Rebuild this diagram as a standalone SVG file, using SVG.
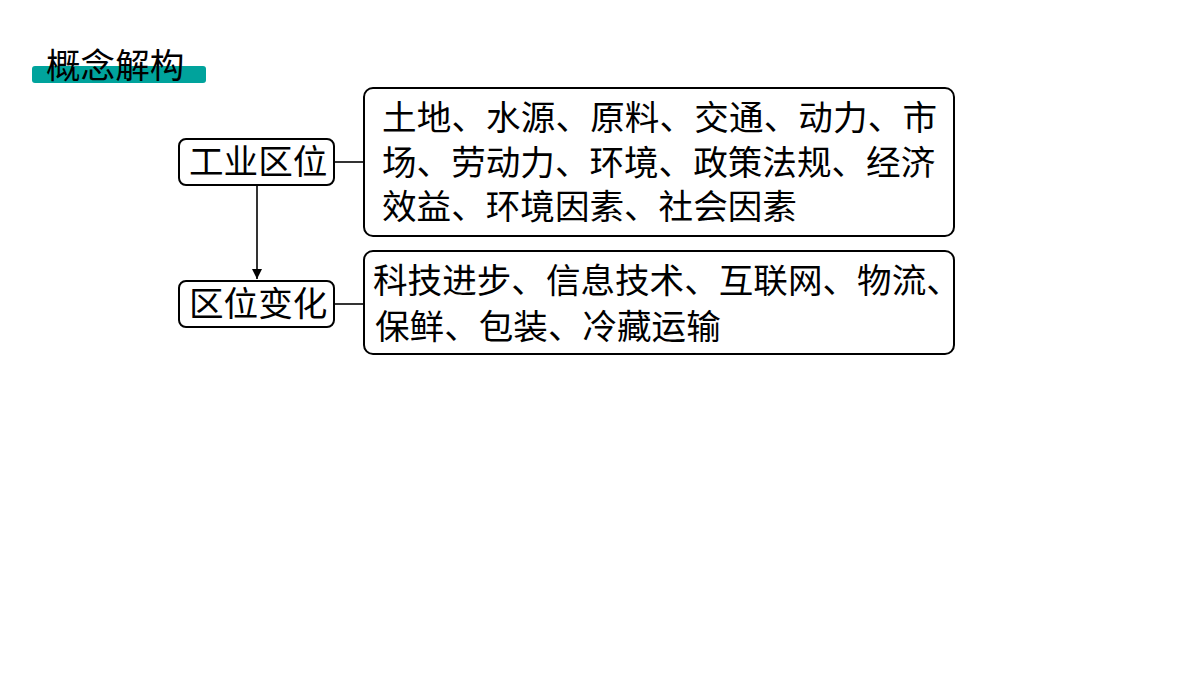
<svg xmlns="http://www.w3.org/2000/svg" width="1200" height="675" viewBox="0 0 1200 675">
<defs>
<style>
text{font-family:"Noto Sans CJK SC","Noto Sans",sans-serif;fill:#000}
.box{fill:#fff;stroke:#000;stroke-width:2}
.t{font-size:34.6px}
.ln{stroke:#000;stroke-width:1.6;fill:none}
</style>
<marker id="ah" viewBox="0 0 10 10" refX="10" refY="5" markerWidth="13" markerHeight="10" markerUnits="userSpaceOnUse" orient="auto">
<path d="M0,0 L10,5 L0,10 Z" fill="#000"/>
</marker>
</defs>
<rect width="1200" height="675" fill="#fff"/>
<g id="title">
<rect x="32" y="66" width="174" height="17" rx="3" fill="#00a39c"/>
<text class="t" x="46" y="78">概念解构</text>
</g>
<g id="connectors">
<line class="ln" x1="257" y1="185" x2="257" y2="279" marker-end="url(#ah)"/>
<line class="ln" x1="334" y1="162" x2="364" y2="162"/>
<line class="ln" x1="334" y1="304" x2="364" y2="304"/>
</g>
<g id="node-gongye">
<rect class="box" x="179" y="139" width="155" height="46" rx="7"/>
<text class="t" x="189" y="174">工业区位</text>
</g>
<g id="node-bianhua">
<rect class="box" x="179" y="281" width="155" height="46" rx="7"/>
<text class="t" x="189" y="316">区位变化</text>
</g>
<g id="node-factors">
<rect class="box" x="364" y="88" width="590" height="148" rx="9"/>
<text class="t" x="382" y="130" textLength="555" lengthAdjust="spacing">土地、水源、原料、交通、动力、市</text>
<text class="t" x="382" y="175">场、劳动力、环境、政策法规、经济</text>
<text class="t" x="382" y="219">效益、环境因素、社会因素</text>
</g>
<g id="node-changes">
<rect class="box" x="364" y="251" width="590" height="103" rx="9"/>
<text class="t" x="373" y="293">科技进步、信息技术、互联网、物流、</text>
<text class="t" x="375" y="339">保鲜、包装、冷藏运输</text>
</g>
</svg>
